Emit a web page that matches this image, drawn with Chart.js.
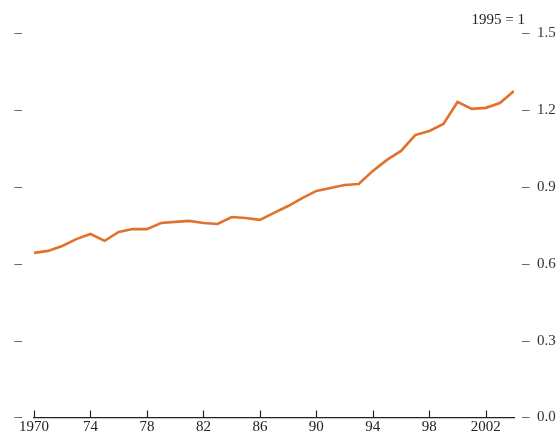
<!DOCTYPE html>
<html>
<head>
<meta charset="utf-8">
<script src="https://cdn.jsdelivr.net/npm/chart.js@4"></script>
<style>
  html, body { margin: 0; padding: 0; background: #fff; }
  #wrap { width: 560px; height: 434px; }
</style>
</head>
<body>
<div id="wrap"><canvas id="indexChart" width="560" height="434"></canvas></div>
<script>
// Index values, 1995 = 1
const years = [1970, 1971, 1972, 1973, 1974, 1975, 1976, 1977, 1978, 1979,
               1980, 1981, 1982, 1983, 1984, 1985, 1986, 1987, 1988, 1989,
               1990, 1991, 1992, 1993, 1994, 1995, 1996, 1997, 1998, 1999,
               2000, 2001, 2002, 2003, 2004];
const indexValues = [0.642, 0.650, 0.669, 0.696, 0.716, 0.689, 0.724, 0.735, 0.735, 0.759,
                     0.763, 0.767, 0.759, 0.755, 0.782, 0.778, 0.771, 0.798, 0.825, 0.856,
                     0.884, 0.895, 0.907, 0.911, 0.962, 1.005, 1.040, 1.102, 1.118, 1.145,
                     1.231, 1.204, 1.208, 1.227, 1.274];
const xTickYears = [1970, 1974, 1978, 1982, 1986, 1990, 1994, 1998, 2002];
const xTickLabels = ['1970', '74', '78', '82', '86', '90', '94', '98', '2002'];
const yTickLabels = ['0.0', '0.3', '0.6', '0.9', '1.2', '1.5'];
const unitNote = '1995 = 1';

const serif = "'Liberation Serif', 'DejaVu Serif', serif";

// small tick marks pointing up from the x axis, plus the unit note
const innerTicks = {
  id: 'innerTicks',
  afterDraw(chart) {
    const { ctx, chartArea, scales } = chart;
    ctx.save();
    ctx.strokeStyle = '#222';
    ctx.lineWidth = 1.2;
    xTickYears.forEach(v => {
      const px = Math.round(scales.x.getPixelForValue(v)) + 0.5;
      ctx.beginPath();
      ctx.moveTo(px, chartArea.bottom);
      ctx.lineTo(px, chartArea.bottom - 7);
      ctx.stroke();
    });
    ctx.fillStyle = '#222';
    ctx.font = '15px ' + serif;
    ctx.textAlign = 'right';
    ctx.textBaseline = 'alphabetic';
    ctx.fillText(unitNote, chartArea.right + 11, chartArea.top - 9);
    ctx.restore();
  }
};

// keep the value axes from reserving room for half-height labels
const fixY = width => s => {
  s.width = width;
  s.paddingTop = 0;
  s.paddingBottom = 0;
};

new Chart(document.getElementById('indexChart').getContext('2d'), {
  type: 'line',
  data: {
    datasets: [{
      data: years.map((y, i) => ({ x: y, y: indexValues[i] })),
      borderColor: '#e1712b',
      borderWidth: 2.6,
      pointRadius: 0,
      tension: 0,
      yAxisID: 'y'
    }]
  },
  options: {
    responsive: false,
    animation: false,
    layout: { padding: { top: 33, left: 0, right: 0, bottom: 0 } },
    plugins: { legend: { display: false }, tooltip: { enabled: false } },
    scales: {
      x: {
        type: 'linear',
        min: 1970,
        max: 2004,
        afterBuildTicks: s => { s.ticks = xTickYears.map(v => ({ value: v })); },
        afterFit: s => { s.height = 16.5; s.paddingLeft = 0; s.paddingRight = 0; },
        grid: { display: false, drawTicks: false },
        border: { display: true, color: '#222', width: 1.2 },
        ticks: {
          autoSkip: false,
          maxRotation: 0,
          padding: 1,
          color: '#222',
          font: { family: serif, size: 15 },
          callback: (v, i) => xTickLabels[i]
        }
      },
      y: {
        position: 'right',
        min: 0,
        max: 1.5,
        afterBuildTicks: s => { s.ticks = yTickLabels.map(t => ({ value: parseFloat(t) })); },
        afterFit: fixY(46),
        grid: { display: false, drawTicks: false },
        border: { display: false },
        ticks: {
          padding: 8,
          color: '#333',
          font: { family: serif, size: 15 },
          callback: (v, i) => '\u2013  ' + yTickLabels[i]
        }
      },
      yLeft: {
        position: 'left',
        min: 0,
        max: 1.5,
        afterBuildTicks: s => { s.ticks = yTickLabels.map(t => ({ value: parseFloat(t) })); },
        afterFit: fixY(34),
        grid: { display: false, drawTicks: false },
        border: { display: false },
        ticks: {
          padding: 12,
          color: '#333',
          font: { family: serif, size: 15 },
          callback: () => '\u2013'
        }
      }
    }
  },
  plugins: [innerTicks]
});
</script>
</body>
</html>
